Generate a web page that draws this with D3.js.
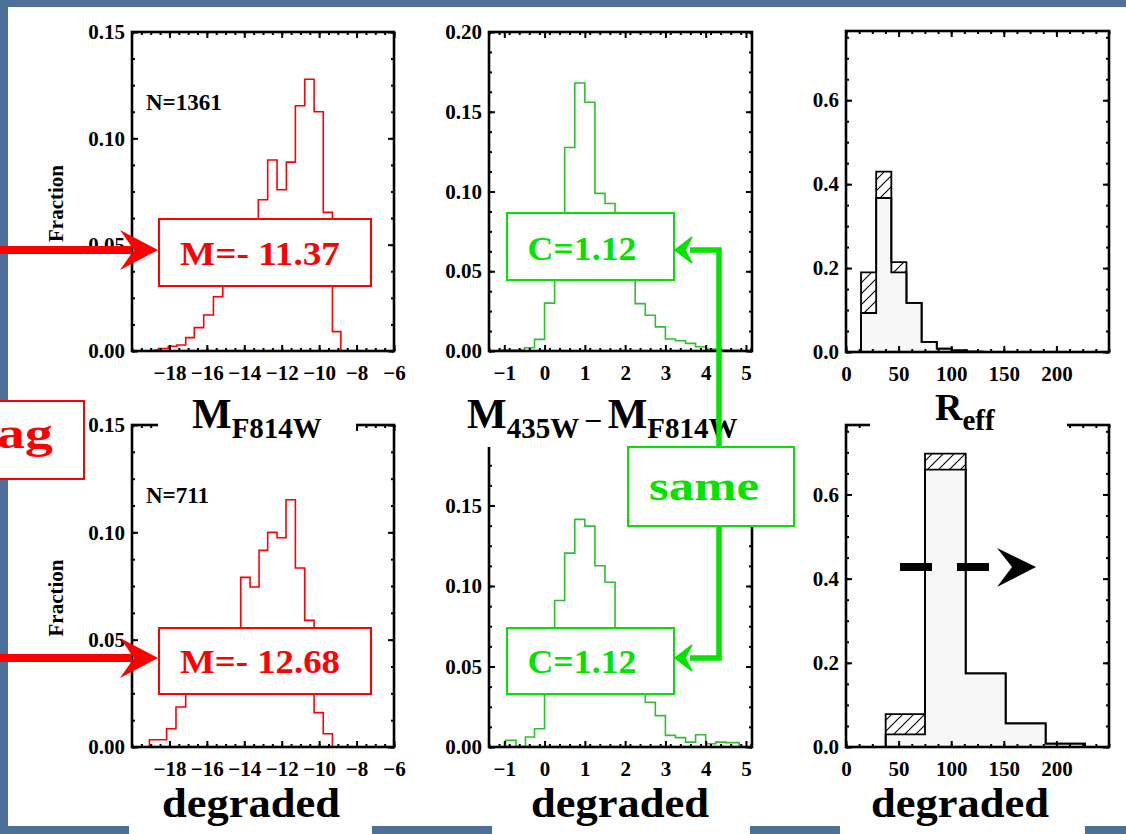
<!DOCTYPE html>
<html>
<head>
<meta charset="utf-8">
<script src="https://cdn.jsdelivr.net/npm/d3@7"></script>
<style>
  html, body { margin: 0; padding: 0; background: #4c7098; }
  svg { display: block; }
</style>
</head>
<body>
<svg id="slide" width="1126" height="834"></svg>
<script>
// ---- data ----
// absolute magnitude M_F814W histograms (bin edges + fraction)
const magEdgesAll = [-18.81, -18.59, -18.06, -17.6, -17.13, -16.67, -16.17, -15.65, -15.15, -14.67, -14.18, -13.7, -13.25, -12.75, -12.25, -11.75, -11.27, -10.77, -10.27, -9.78, -9.29, -8.84];
const magFracAll  = [0.0005, 0.0012, 0.0022, 0.0028, 0.0063, 0.011, 0.0169, 0.0255, 0.034, 0.042, 0.050, 0.057, 0.0711, 0.0898, 0.0758, 0.0888, 0.1153, 0.1278, 0.1125, 0.0652, 0.0091];
const magEdgesDeg = [-19.34, -19.07, -18.6, -18.15, -17.65, -17.13, -16.63, -16.15, -15.65, -15.15, -14.65, -14.19, -13.69, -13.21, -12.75, -12.25, -11.77, -11.27, -10.77, -10.27, -9.78, -9.29, -9.06];
const magFracDeg  = [0, 0.0034, 0.0034, 0.0085, 0.0186, 0.028, 0.033, 0.038, 0.043, 0.048, 0.052, 0.079, 0.0745, 0.0916, 0.1, 0.0975, 0.1152, 0.0834, 0.059, 0.016, 0.0062, 0];

// colour M435W - MF814W
const colEdgesAll = [-1.08, -0.75, -0.5, -0.25, 0, 0.25, 0.5, 0.75, 1, 1.25, 1.5, 1.75, 2, 2.25, 2.5, 2.75, 3, 3.25, 3.5, 3.75, 4, 4.25, 4.5, 4.83];
const colFracAll  = [0.0006, 0.0006, 0.002, 0.0073, 0.030, 0.065, 0.1276, 0.168, 0.156, 0.0988, 0.0925, 0.075, 0.055, 0.0297, 0.0224, 0.0151, 0.0075, 0.0064, 0.0048, 0.0027, 0.0012, 0.0006, 0.0004];
const colEdgesDeg = [-1.08, -0.97, -0.71, -0.475, -0.25, 0, 0.25, 0.5, 0.75, 1, 1.25, 1.5, 1.75, 2, 2.25, 2.5, 2.75, 3, 3.25, 3.5, 3.75, 4, 4.25, 4.5, 4.83];
const colFracDeg  = [0, 0.0041, 0.0003, 0.0062, 0.0113, 0.05, 0.091, 0.1204, 0.1414, 0.1372, 0.1126, 0.1023, 0.068, 0.05, 0.038, 0.0278, 0.0195, 0.0072, 0.0058, 0.003, 0.0076, 0.002, 0.003, 0.0027];

// effective radius R_eff: total (outline) and solid part (grey), hatched = difference
const reffEdgesAll = [14.3, 28.7, 43.1, 57.5, 71.9, 86.3, 100.7, 115.1, 129.5];
const reffTotalAll = [0.19, 0.43, 0.214, 0.117, 0.024, 0.008, 0.004, 0.001];
const reffSolidAll = [0.093, 0.367, 0.19, 0.117, 0.024, 0.008, 0.004, 0.001];
const reffEdgesDeg = [37.7, 75.1, 113.8, 151.8, 189.8, 227.2];
const reffTotalDeg = [0.078, 0.697, 0.175, 0.056, 0.008];
const reffSolidDeg = [0.030, 0.659, 0.175, 0.056, 0.008];

// ticks
const magTicks = [-18, -16, -14, -12, -10, -8, -6];
const colTicks = [-1, 0, 1, 2, 3, 4, 5];
const reffTicks = [0, 50, 100, 150, 200];
const fracTicksMag = [0, 0.05, 0.10, 0.15];
const fracTicksCol = [0, 0.05, 0.10, 0.15, 0.20];
const fracTicksColLow = [0, 0.05, 0.10, 0.15];   // 0.20 is under the title box
const fracTicksReff = [0, 0.2, 0.4, 0.6];

// labels
const countLabels = ["N=1361", "N=711"];
const magMeans = ["M=- 11.37", "M=- 12.68"];
const colMeans = ["C=1.12", "C=1.12"];

const RED = "#ff0000", GREEN = "#00e400", HISTGREEN = "#2fbf2f";
const SERIF = "'Liberation Serif', 'Times New Roman', serif";

const svg = d3.select("#slide");
const defs = svg.append("defs");
const pat = defs.append("pattern").attr("id", "hatch")
    .attr("patternUnits", "userSpaceOnUse").attr("width", 11).attr("height", 11);
pat.append("rect").attr("width", 11).attr("height", 11).attr("fill", "#fff");
pat.append("path").attr("d", "M-3,3 L3,-3 M0,11 L11,0 M8,14 L14,8")
    .attr("stroke", "#000").attr("stroke-width", 1.1);
defs.append("clipPath").attr("id", "leftclip")
    .append("rect").attr("x", 0).attr("y", 380).attr("width", 200).attr("height", 120);

// slide background
svg.append("rect").attr("width", 1126).attr("height", 834).attr("fill", "#4c7098");
svg.append("rect").attr("x", 8).attr("y", 7).attr("width", 1118).attr("height", 819).attr("fill", "#fff");
[[129, 372], [492, 750], [840, 1085]].forEach(([a, b]) => {
    svg.append("rect").attr("x", a).attr("y", 790).attr("width", b - a).attr("height", 44).attr("fill", "#fff");
});

// columns / rows in pixels
const cols = [[132, 394], [489, 752], [846, 1109]];
const rows = [[32, 351], [425, 747]];

function stepPoints(edges, vals) {
    const pts = [[edges[0], 0]];
    vals.forEach((v, i) => { pts.push([edges[i], v]); pts.push([edges[i + 1], v]); });
    pts.push([edges[edges.length - 1], 0]);
    return pts;
}

function drawPanel(p) {
    const g = svg.append("g");
    const x = d3.scaleLinear().domain(p.xDomain).range(p.xr);
    const y = d3.scaleLinear().domain(p.yDomain).range([p.yr[1], p.yr[0]]);
    const line = d3.line().x(d => x(d[0])).y(d => y(d[1]));

    if (p.kind === "step") {
        g.append("path")
            .datum(stepPoints(p.edges, p.vals))
            .attr("d", line)
            .attr("fill", "none").attr("stroke", p.color).attr("stroke-width", 1.6);
    } else {
        const solidPts = stepPoints(p.edges, p.solid);
        g.append("path").datum(solidPts)
            .attr("d", d3.area().x(d => x(d[0])).y0(y(0)).y1(d => y(d[1])))
            .attr("fill", "#f7f7f7");
        const bins = p.total.map((t, i) => ({ a: p.edges[i], b: p.edges[i + 1], t, s: p.solid[i] }));
        g.selectAll(".hat").data(bins.filter(d => d.t > d.s)).enter().append("rect")
            .attr("x", d => x(d.a)).attr("width", d => x(d.b) - x(d.a))
            .attr("y", d => y(d.t)).attr("height", d => y(d.s) - y(d.t))
            .attr("fill", "url(#hatch)");
        [solidPts, stepPoints(p.edges, p.total)].forEach(pts => {
            g.append("path").datum(pts).attr("d", line)
                .attr("fill", "none").attr("stroke", "#000").attr("stroke-width", 1.8);
        });
    }

    const minorX = d3.range(p.xDomain[0], p.xDomain[1] + 1e-9, p.xMinor);
    const minorY = d3.range(0, p.yDomain[1] + 1e-9, p.yMinor);
    const axes = [
        [d3.axisBottom(x).tickValues(p.xTicks).tickSize(-6).tickPadding(14).tickFormat(p.xFmt), `translate(0,${p.yr[1]})`],
        [d3.axisBottom(x).tickValues(minorX).tickSize(-3).tickFormat(""), `translate(0,${p.yr[1]})`],
        [d3.axisTop(x).tickValues(p.xTicks).tickSize(-6).tickFormat(""), `translate(0,${p.yr[0]})`],
        [d3.axisTop(x).tickValues(minorX).tickSize(-3).tickFormat(""), `translate(0,${p.yr[0]})`],
        [d3.axisLeft(y).tickValues(p.yLabels || p.yTicks).tickSize(-6).tickPadding(7).tickFormat(p.yFmt), `translate(${p.xr[0]},0)`],
        [d3.axisLeft(y).tickValues(minorY).tickSize(-3).tickFormat(""), `translate(${p.xr[0]},0)`],
        [d3.axisRight(y).tickValues(p.yTicks).tickSize(-6).tickFormat(""), `translate(${p.xr[1]},0)`],
        [d3.axisRight(y).tickValues(minorY).tickSize(-3).tickFormat(""), `translate(${p.xr[1]},0)`]
    ];
    axes.forEach(([ax, tr]) => {
        const a = g.append("g").attr("transform", tr).call(ax);
        a.select(".domain").remove();
        a.selectAll("line").attr("stroke", "#000").attr("stroke-width", 2);
        a.selectAll("text").attr("font-family", SERIF).attr("font-weight", "bold")
            .attr("font-size", 21).attr("fill", "#000");
    });

    g.append("rect").attr("x", p.xr[0]).attr("y", p.yr[0])
        .attr("width", p.xr[1] - p.xr[0]).attr("height", p.yr[1] - p.yr[0])
        .attr("fill", "none").attr("stroke", "#000").attr("stroke-width", 2.6);

    if (p.nLabel) {
        g.append("text").attr("x", p.xr[0] + 14).attr("y", p.yr[0] + 78)
            .attr("font-family", SERIF).attr("font-weight", "bold").attr("font-size", 23)
            .text(p.nLabel);
    }
    if (p.ylab) {
        g.append("text").attr("transform", `translate(63,${(p.yr[0] + p.yr[1]) / 2 + 12}) rotate(-90)`)
            .attr("text-anchor", "middle").attr("font-family", SERIF).attr("font-weight", "bold")
            .attr("font-size", 21).text("Fraction");
    }
}

const f2 = d3.format(".2f"), f1 = d3.format(".1f"), fi = d3.format("d");
const magBase = { kind: "step", color: RED, xDomain: [-20, -6], xTicks: magTicks, xMinor: 0.5, xFmt: fi,
    yDomain: [0, 0.15], yTicks: fracTicksMag, yMinor: 0.0125, yFmt: f2, xr: cols[0], ylab: true };
const colBase = { kind: "step", color: HISTGREEN, xDomain: [-1.38, 5.15], xTicks: colTicks, xMinor: 0.25, xFmt: fi,
    yDomain: [0, 0.20], yTicks: fracTicksCol, yMinor: 0.0125, yFmt: f2, xr: cols[1] };
const reffBase = { kind: "bar", xDomain: [0, 250], xTicks: reffTicks, xMinor: 12.5, xFmt: fi,
    yDomain: [0, 0.765], yTicks: fracTicksReff, yMinor: 0.05, yFmt: f1, xr: cols[2] };

drawPanel(Object.assign({}, magBase, { yr: rows[0], edges: magEdgesAll, vals: magFracAll, nLabel: countLabels[0] }));
drawPanel(Object.assign({}, magBase, { yr: rows[1], edges: magEdgesDeg, vals: magFracDeg, nLabel: countLabels[1] }));
drawPanel(Object.assign({}, colBase, { yr: rows[0], edges: colEdgesAll, vals: colFracAll }));
drawPanel(Object.assign({}, colBase, { yr: rows[1], edges: colEdgesDeg, vals: colFracDeg, yLabels: fracTicksColLow }));
drawPanel(Object.assign({}, reffBase, { yr: [31, 352], edges: reffEdgesAll, total: reffTotalAll, solid: reffSolidAll }));
drawPanel(Object.assign({}, reffBase, { yr: rows[1], edges: reffEdgesDeg, total: reffTotalDeg, solid: reffSolidDeg }));

// ---- slide overlays ----
function box(x, y, w, h, color) {
    svg.append("rect").attr("x", x).attr("y", y).attr("width", w).attr("height", h)
        .attr("fill", "#fff").attr("stroke", color).attr("stroke-width", 2);
}
function label(x, y, txt, color, size, len) {
    const t = svg.append("text").attr("x", x).attr("y", y).attr("text-anchor", "middle")
        .attr("font-family", SERIF).attr("font-weight", "bold").attr("font-size", size)
        .attr("fill", color).text(txt);
    if (len) t.attr("textLength", len).attr("lengthAdjust", "spacingAndGlyphs");
    return t;
}

// axis titles (white boxes on the slide)
svg.append("rect").attr("x", 158).attr("y", 390).attr("width", 198).attr("height", 50).attr("fill", "#fff");
svg.append("rect").attr("x", 440).attr("y", 390).attr("width", 320).attr("height", 57).attr("fill", "#fff");
svg.append("rect").attr("x", 870).attr("y", 390).attr("width", 197).attr("height", 50).attr("fill", "#fff");

function title(x, y, parts) {
    const t = svg.append("text").attr("x", x).attr("y", y)
        .attr("font-family", SERIF).attr("font-weight", "bold").attr("fill", "#000");
    parts.forEach(([s, sub, size]) => {
        t.append("tspan").attr("font-size", size || (sub ? 29 : 42)).attr("dy", sub ? sub : 0).text(s);
    });
}
title(192, 428, [["M", 0], ["F814W", 10]]);
title(467, 428, [["M", 0], ["435W", 10], [" \u2013 ", -10], ["M", 0], ["F814W", 10]]);
title(935, 420, [["R", 0, 38], ["eff", 10]]);

// "degraded" captions
[251, 620, 960].forEach(cx => label(cx, 817, "degraded", "#000", 42, 178));

// green connector between colour boxes
svg.append("path").attr("d", "M690,250 L719,250 L719,658 L690,658")
    .attr("fill", "none").attr("stroke", GREEN).attr("stroke-width", 5.5);
[250, 658].forEach(yy => {
    svg.append("path").attr("d", `M675,${yy} L692,${yy - 13} L685,${yy} L692,${yy + 13} Z`)
        .attr("fill", GREEN).attr("stroke", GREEN).attr("stroke-width", 1.5);
});

// mean boxes
box(159, 219, 212, 67, RED);   label(260, 265, magMeans[0], RED, 34, 160);
box(159, 628, 212, 66, RED);   label(260, 673, magMeans[1], RED, 34, 160);
box(507, 213, 167, 67, GREEN); label(582, 260, colMeans[0], GREEN, 34, 109);
box(507, 628, 167, 66, GREEN); label(582, 673, colMeans[1], GREEN, 34, 109);
box(628, 447, 166, 79, GREEN); label(704, 500, "same", GREEN, 42, 110);

// red arrows from the left
[250, 658].forEach(yy => {
    svg.append("rect").attr("x", 0).attr("y", yy - 4).attr("width", 132).attr("height", 8).attr("fill", RED);
    svg.append("path").attr("d", `M158,${yy} L120,${yy - 20} L134,${yy} L120,${yy + 20} Z`).attr("fill", RED);
});

// black dashed arrow in the last panel
svg.append("path").attr("d", "M900,567 L932,567 M957,567 L989,567")
    .attr("stroke", "#000").attr("stroke-width", 8);
svg.append("path").attr("d", "M1036,567 L997,548 L1012,567 L997,587 Z").attr("fill", "#000");

// partly hidden box at the left edge (its word runs off the slide)
box(-60, 401, 144, 78, RED);
svg.append("g").attr("clip-path", "url(#leftclip)")
  .append("text").attr("transform", "translate(53,448) scale(1.28,1)").attr("text-anchor", "end")
    .attr("font-family", SERIF).attr("font-weight", "bold").attr("font-size", 44)
    .attr("fill", RED).text("Mag");
</script>
</body>
</html>
